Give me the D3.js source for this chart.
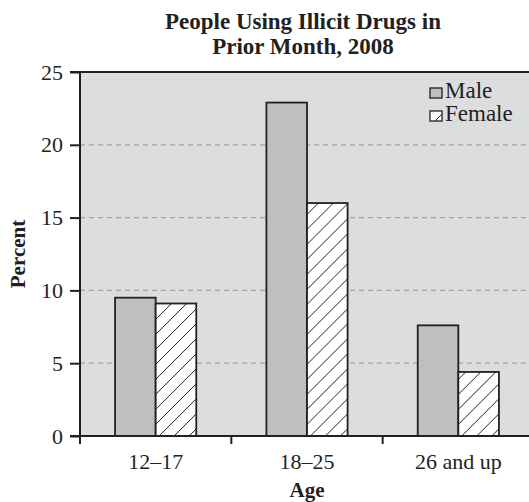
<!DOCTYPE html>
<html>
<head>
<meta charset="utf-8">
<script src="https://cdn.jsdelivr.net/npm/d3@7"></script>
<style>
  html, body { margin: 0; padding: 0; background: #fff; }
  svg { display: block; }
  text { font-family: "Liberation Serif", "Times New Roman", serif; fill: #231f20; }
</style>
</head>
<body>
<svg id="chart" width="529" height="502"></svg>
<script>
const categories = ["12–17", "18–25", "26 and up"];
const seriesNames = ["Male", "Female"];
const maleValues = [9.5, 22.9, 7.6];
const femaleValues = [9.1, 16.0, 4.4];
const yTicks = [0, 5, 10, 15, 20, 25];
const titleLines = ["People Using Illicit Drugs in", "Prior Month, 2008"];
const xTitle = "Age";
const yTitle = "Percent";

(function () {
const svg = d3.select("#chart");
const W = 529, H = 502;
const pLeft = 80, pTop = 72, pBottom = 436, pRight = 534;
const ink = "#231f20";

const y = d3.scaleLinear().domain([0, 25]).range([pBottom, pTop]);
const x = d3.scaleBand().domain(categories).range([pLeft, pRight]).paddingInner(0).paddingOuter(0);
const groupW = 81.2;
const xs = d3.scaleBand().domain(seriesNames).range([0, groupW]);

// hatch pattern
const defs = svg.append("defs");
const pat = defs.append("pattern").attr("id", "hatch")
  .attr("patternUnits", "userSpaceOnUse").attr("width", 15).attr("height", 15);
pat.append("rect").attr("width", 15).attr("height", 15).attr("fill", "#ffffff");
pat.append("path").attr("d", "M0,15 L15,0 M-3.75,3.75 L3.75,-3.75 M11.25,18.75 L18.75,11.25")
  .attr("stroke", ink).attr("stroke-width", 1);

// plot background
svg.append("rect").attr("x", pLeft).attr("y", pTop).attr("width", W - pLeft + 10).attr("height", pBottom - pTop)
  .attr("fill", "#dcdddf");

// gridlines
svg.append("g").selectAll("line").data(yTicks.filter(d => d > 0 && d < 25)).join("line")
  .attr("x1", pLeft).attr("x2", W).attr("y1", d => y(d)).attr("y2", d => y(d))
  .attr("stroke", "#a3a4a6").attr("stroke-width", 1.2).attr("stroke-dasharray", "5,4");

// bars
const data = categories.map((c, i) => ({ cat: c, vals: [
  { s: "Male", v: maleValues[i] }, { s: "Female", v: femaleValues[i] } ] }));
const groups = svg.append("g").selectAll("g").data(data).join("g")
  .attr("transform", d => `translate(${x(d.cat) + (x.bandwidth() - groupW) / 2},0)`);
groups.selectAll("rect").data(d => d.vals).join("rect")
  .attr("x", d => xs(d.s)).attr("width", xs.bandwidth())
  .attr("y", d => y(d.v)).attr("height", d => y(0) - y(d.v))
  .attr("fill", d => d.s === "Male" ? "#bebfc1" : "url(#hatch)")
  .attr("stroke", ink).attr("stroke-width", 1.8);

// frame: top border, left axis, bottom axis
svg.append("line").attr("x1", pLeft - 10).attr("x2", W).attr("y1", pTop).attr("y2", pTop)
  .attr("stroke", ink).attr("stroke-width", 2);
svg.append("line").attr("x1", pLeft - 10).attr("x2", W).attr("y1", pBottom).attr("y2", pBottom)
  .attr("stroke", ink).attr("stroke-width", 2);
svg.append("line").attr("x1", pLeft).attr("x2", pLeft).attr("y1", pTop).attr("y2", pBottom + 8)
  .attr("stroke", ink).attr("stroke-width", 2);

// y axis ticks/labels
const yAxis = d3.axisLeft(y).tickValues(yTicks).tickSize(10).tickPadding(7).tickFormat(d3.format("d"));
const gy = svg.append("g").attr("transform", `translate(${pLeft},0)`).call(yAxis);
gy.select(".domain").remove();
gy.selectAll(".tick line").attr("stroke", ink).attr("stroke-width", 2);
gy.selectAll(".tick text").attr("font-size", 22).attr("fill", ink)
  .style("font-family", '"Liberation Serif", serif');

// x ticks at band boundaries
svg.append("g").selectAll("line").data(categories.slice(1)).join("line")
  .attr("x1", d => x(d)).attr("x2", d => x(d)).attr("y1", pBottom).attr("y2", pBottom + 8)
  .attr("stroke", ink).attr("stroke-width", 2);

// x labels
svg.append("g").selectAll("text").data(categories).join("text")
  .attr("x", d => x(d) + x.bandwidth() / 2).attr("y", 469)
  .attr("text-anchor", "middle").attr("font-size", 22).text(d => d);

// axis titles
svg.append("text").attr("x", 307).attr("y", 497).attr("text-anchor", "middle")
  .attr("font-size", 21).attr("font-weight", "bold").text(xTitle);
svg.append("text").attr("transform", "translate(25,254) rotate(-90)").attr("text-anchor", "middle")
  .attr("font-size", 21).attr("font-weight", "bold").text(yTitle);

// title
svg.append("g").selectAll("text").data(titleLines).join("text")
  .attr("x", 303).attr("y", (d, i) => 29 + i * 25).attr("text-anchor", "middle")
  .attr("font-size", 23).attr("font-weight", "bold").text(d => d);

// legend
const legend = svg.append("g").selectAll("g").data(seriesNames).join("g")
  .attr("transform", (d, i) => `translate(430,${88 + i * 23})`);
legend.append("rect").attr("width", 12).attr("height", 10)
  .attr("fill", d => d === "Male" ? "#bebfc1" : "url(#hatch)")
  .attr("stroke", ink).attr("stroke-width", 1.3);
legend.append("text").attr("x", 15).attr("y", 10).attr("font-size", 23).text(d => d);
})();
</script>
</body>
</html>
